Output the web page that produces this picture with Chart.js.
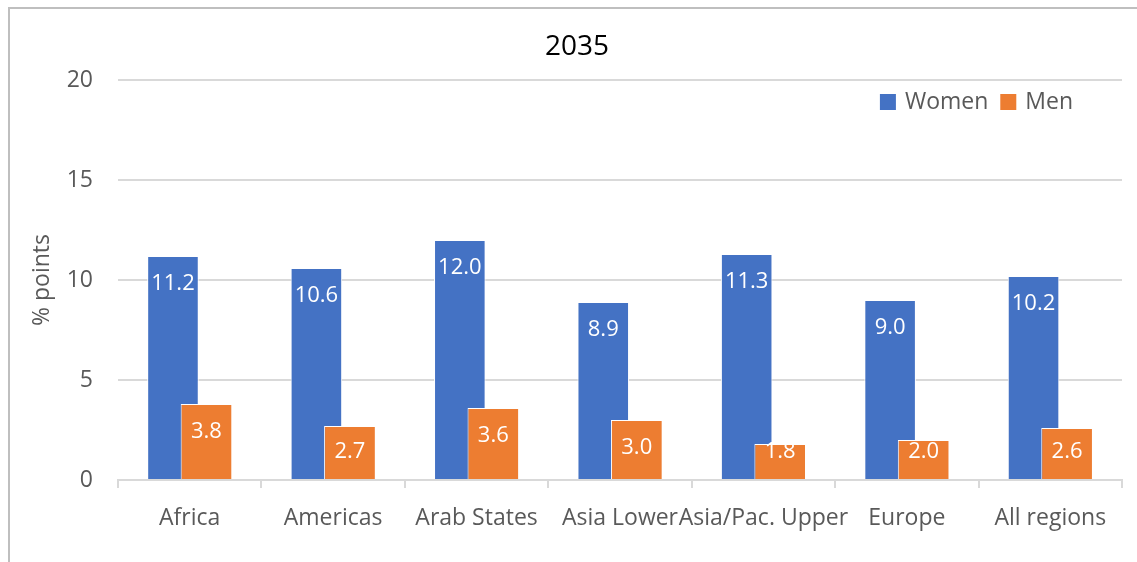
<!DOCTYPE html>
<html lang="en">
<head>
    <meta charset="UTF-8">
    <title>2035</title>
    <style>
        body {
            margin: 0;
            padding: 0;
            background-color: #fff;
            overflow: hidden;
        }

        #chart-box {
            position: relative;
            width: 1137px;
            height: 562px;
        }

        #frame {
            position: absolute;
            left: 8px;
            top: 7px;
            width: 1200px;
            height: 600px;
            border: 2px solid #bfbfbf;
            pointer-events: none;
        }
    </style>
    <script src="https://cdn.jsdelivr.net/npm/chart.js"></script>
</head>
<body>

<div id="chart-box">
    <canvas id="gapChart"></canvas>
    <div id="frame"></div>
</div>

<script>
    const regions = ['Africa', 'Americas', 'Arab States', 'Asia Lower', 'Asia/Pac. Upper', 'Europe', 'All regions'];
    const women = [11.2, 10.6, 12.0, 8.9, 11.3, 9.0, 10.2];
    const men = [3.8, 2.7, 3.6, 3.0, 1.8, 2.0, 2.6];
    const yTicks = [0, 5, 10, 15, 20];

    const grey = '#595959';
    const fontFamily = '"Open Sans", sans-serif';

    // Chart.js paints the first dataset last; redraw the later ones so Men overlaps Women,
    // then print the white values just inside the top of every bar
    const barLabels = {
        id: 'barLabels',
        afterDatasetsDraw(chart) {
            const ctx = chart.ctx;
            for (let i = 1; i < chart.data.datasets.length; i++) {
                chart.getDatasetMeta(i).controller.draw();
            }
            ctx.save();
            ctx.font = '22px ' + fontFamily;
            ctx.fillStyle = '#fff';
            ctx.textAlign = 'center';
            ctx.textBaseline = 'middle';
            chart.data.datasets.forEach((ds, i) => {
                chart.getDatasetMeta(i).data.forEach((bar, j) => {
                    // short bars: keep the label inside the bar
                    const y = Math.min(bar.y + 28, bar.base - 27);
                    ctx.fillText(ds.data[j].toFixed(1), bar.x, y);
                });
            });
            ctx.restore();
        }
    };

    // legend sits inside the plot, top right, under the top gridline
    const innerLegend = {
        id: 'innerLegend',
        afterDraw(chart) {
            const ctx = chart.ctx;
            const area = chart.chartArea;
            const box = 16;
            ctx.save();
            ctx.font = '23px ' + fontFamily;
            ctx.textBaseline = 'middle';
            const items = chart.data.datasets.map(ds => ({
                text: ds.label,
                color: ds.backgroundColor,
                width: box + 9 + ctx.measureText(ds.label).width
            }));
            const gap = 12;
            const total = items.reduce((s, it) => s + it.width, 0) + gap * (items.length - 1);
            let x = area.right - 49 - total;
            const y = area.top + 22;
            items.forEach(it => {
                ctx.fillStyle = it.color;
                ctx.fillRect(x, y - box / 2, box, box);
                ctx.fillStyle = grey;
                ctx.fillText(it.text, x + box + 9, y);
                x += it.width + gap;
            });
            ctx.restore();
        }
    };

    const ctx = document.getElementById('gapChart').getContext('2d');
    new Chart(ctx, {
        type: 'bar',
        data: {
            labels: regions,
            datasets: [
                {
                    label: 'Women',
                    data: women,
                    backgroundColor: '#4472C4',
                    borderColor: '#ffffff',
                    borderWidth: 1
                },
                {
                    label: 'Men',
                    data: men,
                    backgroundColor: '#ED7D31',
                    borderColor: '#ffffff',
                    borderWidth: 1
                }
            ]
        },
        options: {
            responsive: true,
            maintainAspectRatio: false,
            animation: false,
            categoryPercentage: 0.467,
            barPercentage: 1.54,
            layout: {
                padding: { left: 32, right: 15, top: 0, bottom: 30 }
            },
            plugins: {
                legend: { display: false },
                tooltip: { enabled: false },
                title: {
                    display: true,
                    text: '2035',
                    color: '#000',
                    font: { family: fontFamily, size: 28, weight: 'normal' },
                    padding: { top: 30, bottom: 16.4 }
                }
            },
            scales: {
                x: {
                    grid: {
                        display: true,
                        drawOnChartArea: false,
                        drawTicks: true,
                        tickLength: 8,
                        color: '#d9d9d9',
                        lineWidth: 2
                    },
                    border: { display: true, color: '#d9d9d9', width: 2 },
                    ticks: {
                        color: grey,
                        font: { family: fontFamily, size: 23 },
                        padding: 17,
                        autoSkip: false,
                        maxRotation: 0,
                        minRotation: 0
                    },
                    afterFit(scale) {
                        scale.height = 52;
                    }
                },
                y: {
                    min: 0,
                    max: 20,
                    afterBuildTicks(scale) {
                        scale.ticks = yTicks.map(v => ({ value: v }));
                    },
                    grid: {
                        color: '#d9d9d9',
                        lineWidth: 2,
                        drawTicks: false
                    },
                    border: { display: false },
                    ticks: {
                        color: grey,
                        font: { family: fontFamily, size: 23 },
                        padding: 25
                    },
                    title: {
                        display: true,
                        text: '% points',
                        color: grey,
                        font: { family: fontFamily, size: 23 },
                        padding: { top: -3, bottom: 0 }
                    },
                    afterFit(scale) {
                        scale.width = 86;
                    }
                }
            }
        },
        plugins: [barLabels, innerLegend]
    });
</script>
</body>
</html>
